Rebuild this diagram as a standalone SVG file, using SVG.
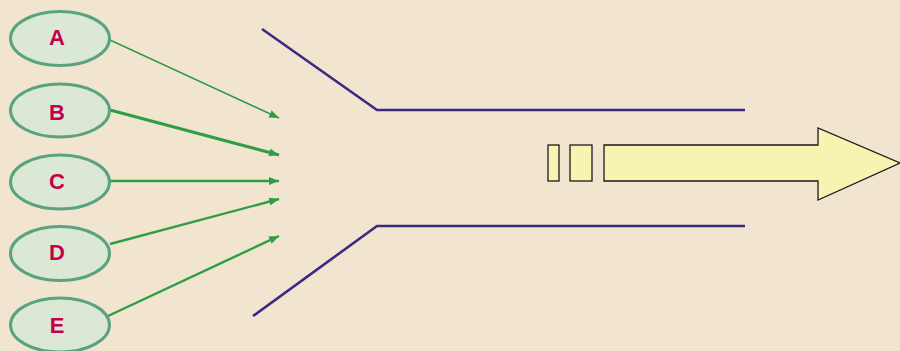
<svg xmlns="http://www.w3.org/2000/svg" width="900" height="351" viewBox="0 0 900 351">
<style>
.node ellipse{fill:#DCE8D6;stroke:#5AA37E;stroke-width:3}
.node text{font-family:"Liberation Sans",Arial,sans-serif;font-weight:bold;font-size:22px;fill:#C4004C;text-anchor:middle}
.conn{stroke:#2E9E45;fill:none}
.wall{stroke:#3B2A80;stroke-width:2.6;fill:none}
.flow{fill:#F7F3B0;stroke:#1a1a1a;stroke-width:1.3}
</style>
<defs>
<marker id="ah" viewBox="0 0 10 10" refX="10" refY="5" markerWidth="10" markerHeight="8" markerUnits="userSpaceOnUse" orient="auto" preserveAspectRatio="none">
<path d="M0,0 L10,5 L0,10 z" fill="#2E9E45"/>
</marker>
</defs>
<rect width="900" height="351" fill="#F2E5D0"/>
<g id="connectors">
<line class="conn" x1="110" y1="40" x2="279" y2="118" stroke-width="1.6" marker-end="url(#ah)"/>
<line class="conn" x1="110" y1="110" x2="279" y2="155" stroke-width="3" marker-end="url(#ah)"/>
<line class="conn" x1="110" y1="181" x2="279" y2="181" stroke-width="2.4" marker-end="url(#ah)"/>
<line class="conn" x1="110" y1="244" x2="279" y2="199" stroke-width="2.4" marker-end="url(#ah)"/>
<line class="conn" x1="108" y1="316" x2="279" y2="236" stroke-width="2.4" marker-end="url(#ah)"/>
</g>
<g id="walls">
<polyline class="wall" points="262,29 377,110 745,110"/>
<polyline class="wall" points="253,316 377,226 745,226"/>
</g>
<g id="flow">
<rect class="flow" x="548" y="145" width="11" height="36"/>
<rect class="flow" x="570" y="145" width="22" height="36"/>
<polygon class="flow" points="604,145 818,145 818,128 900,163 818,200 818,181 604,181"/>
</g>
<g id="A" class="node"><ellipse cx="60" cy="38.5" rx="49.5" ry="27"/><text x="57" y="45">A</text></g>
<g id="B" class="node"><ellipse cx="60" cy="110.5" rx="49.5" ry="26.5"/><text x="57" y="120">B</text></g>
<g id="C" class="node"><ellipse cx="60" cy="182" rx="49.5" ry="27"/><text x="57" y="189">C</text></g>
<g id="D" class="node"><ellipse cx="60" cy="253.5" rx="49.5" ry="27"/><text x="57" y="260">D</text></g>
<g id="E" class="node"><ellipse cx="60" cy="325" rx="49.5" ry="27"/><text x="57" y="333">E</text></g>
</svg>
